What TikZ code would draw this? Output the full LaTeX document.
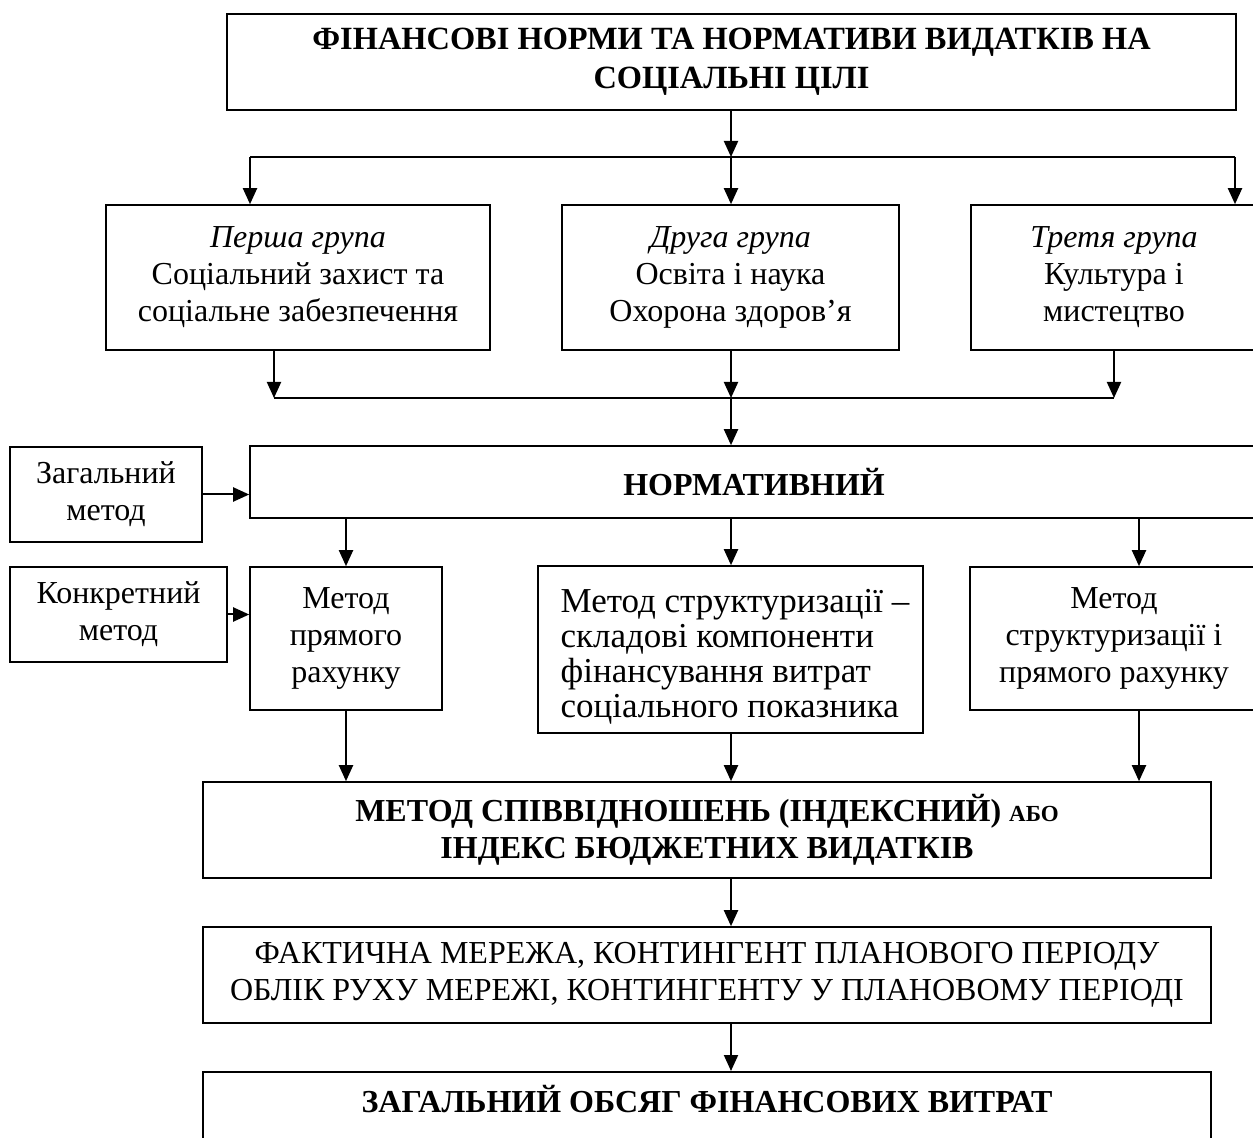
\documentclass[tikz,border=0pt]{standalone}
\usepackage{fontspec}
\setmainfont{Liberation Serif}
\usetikzlibrary{arrows.meta}
\tikzset{
  box/.style={draw, line width=0.8pt, rectangle, inner sep=0pt, align=center,
    font=\fontsize{16pt}{18.5pt}\selectfont},
  txt/.style={inner sep=0pt},
  arr/.style={line width=1pt, -{Triangle[length=8pt,width=7pt]}},
  ln/.style={line width=1pt},
}
\begin{document}
\begin{tikzpicture}[x=0.5pt,y=-0.5pt]
\useasboundingbox (0,0) rectangle (1253,1138);
\clip (0,0) rectangle (1253,1138);
% boxes
\node[box, minimum width=504.5pt, minimum height=48pt, font=\fontsize{16.2pt}{19.5pt}\selectfont] (top) at (731.5,62)
  {\textbf{ФІНАНСОВІ НОРМИ ТА НОРМАТИВИ ВИДАТКІВ НА}\\\textbf{СОЦІАЛЬНІ ЦІЛІ}};
\node[box, minimum width=192pt, minimum height=72.5pt] (g1) at (298,277.5)
  {\textit{Перша група}\\Соціальний захист та\\соціальне забезпечення};
\node[box, minimum width=168.5pt, minimum height=72.5pt] (g2) at (730.5,277.5)
  {\textit{Друга група}\\Освіта і наука\\Охорона здоров’я};
\node[box, minimum width=143pt, minimum height=72.5pt] (g3) at (1114,277.5)
  {\textit{Третя група}\\Культура і\\мистецтво};
\node[box, minimum width=96pt, minimum height=47.5pt] (zag) at (106,494.5)
  {Загальний\\метод};
\node[box, minimum width=504pt, minimum height=36pt] (norm) at (754,482)
  {\textbf{НОРМАТИВНИЙ}};
\node[box, minimum width=108.5pt, minimum height=47.5pt] (konk) at (118.5,614.5)
  {Конкретний\\метод};
\node[box, minimum width=96pt, minimum height=71.5pt] (m1) at (346,638.5)
  {Метод\\прямого\\рахунку};
\node[box, minimum width=192.5pt, minimum height=83.5pt] (m2) at (730.5,649.5) {};
\node[txt, align=left, font=\fontsize{17.5pt}{17.5pt}\selectfont] (m2t) at (735,657)
  {Метод структуризації –\\складові компоненти\\фінансування витрат\\соціального показника};
\node[box, minimum width=144pt, minimum height=71.5pt] (m3) at (1114,638.5)
  {Метод\\структуризації і\\прямого рахунку};
\node[box, minimum width=504pt, minimum height=48pt] (idx) at (707,830)
  {\textbf{МЕТОД СПІВВІДНОШЕНЬ (ІНДЕКСНИЙ) {\fontsize{11.5pt}{14pt}\selectfont АБО}}\\\textbf{ІНДЕКС БЮДЖЕТНИХ ВИДАТКІВ}};
\node[box, minimum width=504pt, minimum height=48pt] (fact) at (707,975)
  {ФАКТИЧНА МЕРЕЖА, КОНТИНГЕНТ ПЛАНОВОГО ПЕРІОДУ\\ОБЛІК РУХУ МЕРЕЖІ, КОНТИНГЕНТУ У ПЛАНОВОМУ ПЕРІОДІ};
\node[box, align=none, minimum width=504pt, text height=20.5pt, text depth=27.5pt, anchor=north] (total) at (707,1071)
  {\textbf{ЗАГАЛЬНИЙ ОБСЯГ ФІНАНСОВИХ ВИТРАТ}};
% junction coordinates
\coordinate (j1) at (731,157);
\coordinate (jL) at (250,157);
\coordinate (jR) at (1235,157);
\coordinate (k1) at (274,398);
\coordinate (k2) at (731,398);
\coordinate (k3) at (1114,398);
\coordinate (r3) at (1139,600);
\coordinate (c) at (731,900);
% connectors
\draw[arr] (j1 |- top.south) -- (j1);
\draw[ln] (jL) -- (jR);
\draw[arr] (jL) -- (jL |- g1.north);
\draw[arr] (j1) -- (j1 |- g2.north);
\draw[arr] (jR) -- (jR |- g3.north);
\draw[arr] (k1 |- g1.south) -- (k1);
\draw[arr] (k2 |- g2.south) -- (k2);
\draw[arr] (k3 |- g3.south) -- (k3);
\draw[ln] (k1) -- (k3);
\draw[arr] (k2) -- (k2 |- norm.north);
\draw[arr] (zag.east) -- (zag.east -| norm.west);
\draw[arr] (konk.east) -- (konk.east -| m1.west);
\draw[arr] (m1.north |- norm.south) -- (m1.north);
\draw[arr] (c |- norm.south) -- (c |- m2.north);
\draw[arr] (r3 |- norm.south) -- (r3 |- m3.north);
\draw[arr] (m1.south) -- (m1.south |- idx.north);
\draw[arr] (c |- m2.south) -- (c |- idx.north);
\draw[arr] (r3 |- m3.south) -- (r3 |- idx.north);
\draw[arr] (c |- idx.south) -- (c |- fact.north);
\draw[arr] (c |- fact.south) -- (c |- total.north);
\end{tikzpicture}
\end{document}
